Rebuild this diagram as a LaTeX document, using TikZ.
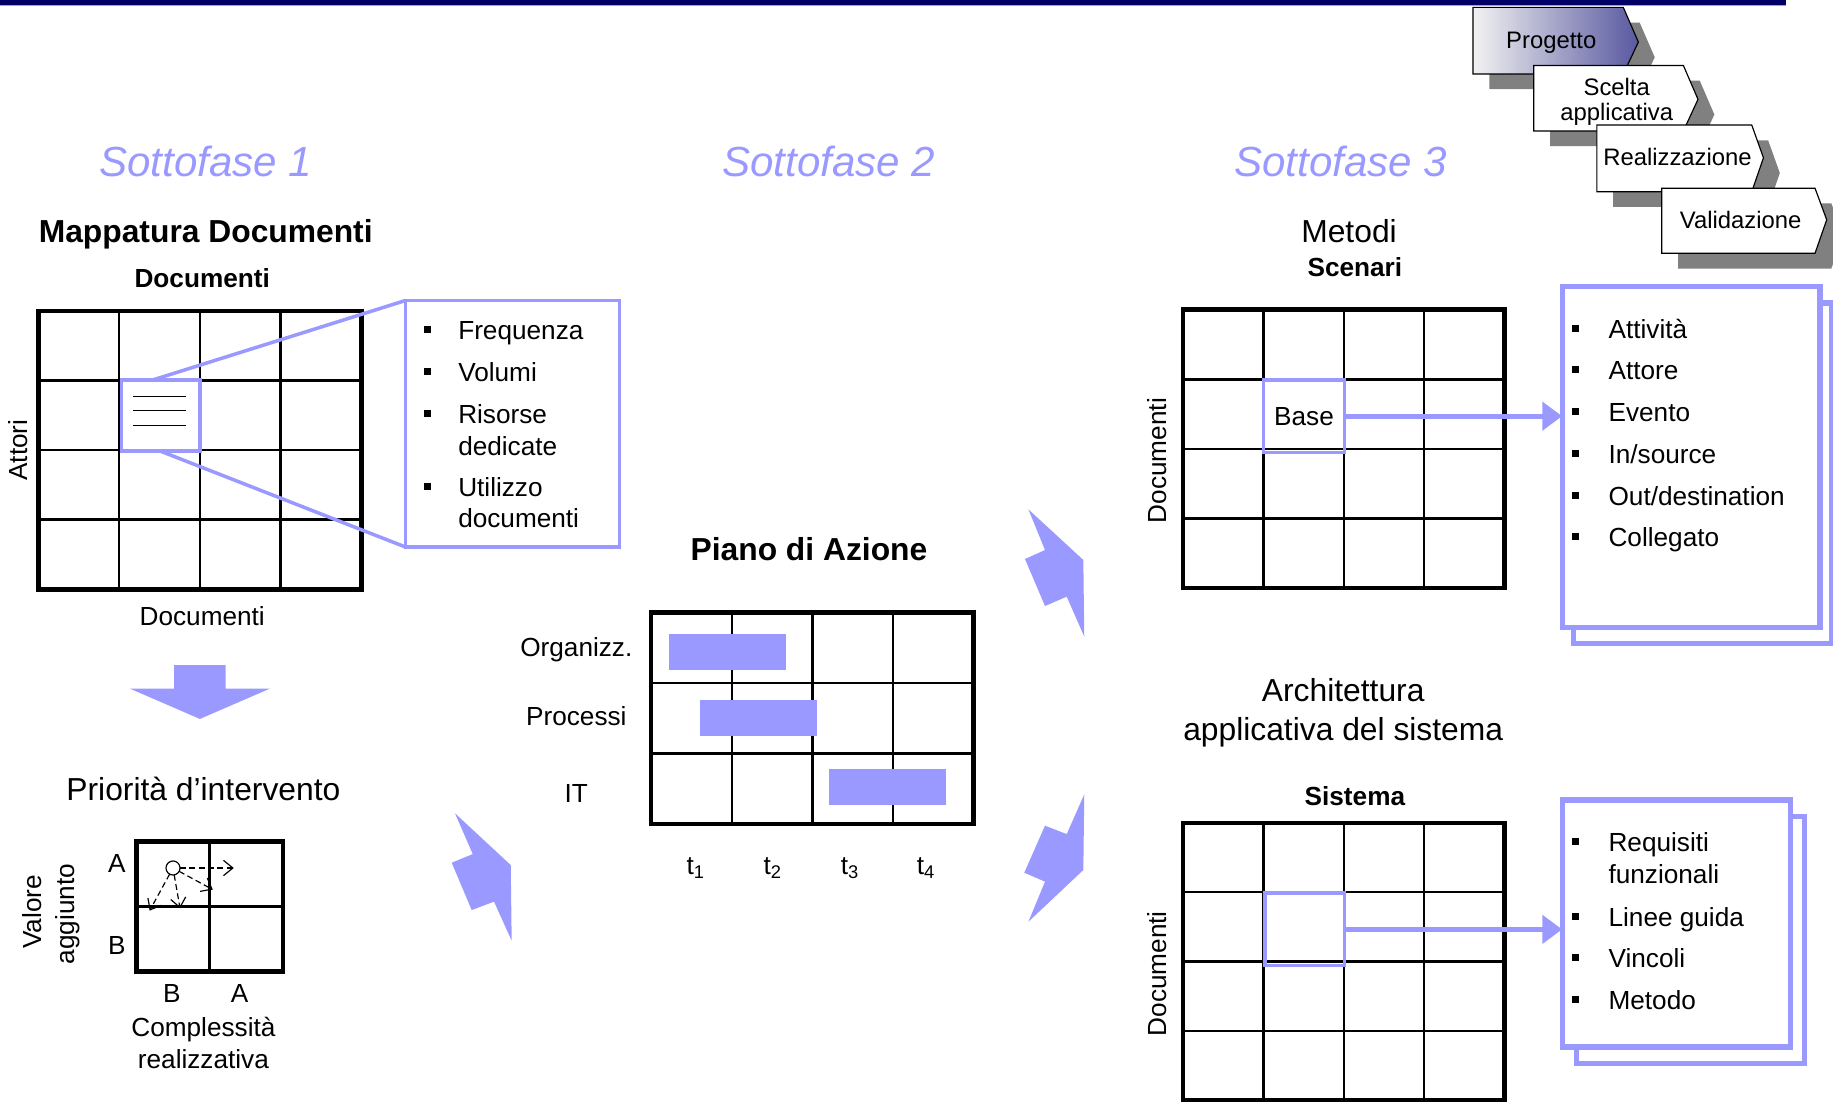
\documentclass[tikz,border=0pt]{standalone}
\usepackage{fontspec}
\setmainfont{Liberation Sans}
\usetikzlibrary{calc,arrows.meta}
\definecolor{lav}{HTML}{9999FF}
\definecolor{navyb}{HTML}{000066}
\definecolor{shad}{HTML}{808080}
\newcommand{\fBody}{\fontsize{22.4}{27}\selectfont}
\newcommand{\fHead}{\fontsize{27.2}{33}\selectfont}
\newcommand{\fSott}{\fontsize{36}{40}\selectfont}
\newcommand{\fChev}{\fontsize{20.4}{22}\selectfont}
\newcommand{\mygrid}[4]{%
  \pgfmathtruncatemacro{\nca}{#2-1}%
  \pgfmathtruncatemacro{\nra}{#3-1}%
  \foreach \i in {1,...,\nca} \draw[line width=#4] ($(#1.north west)!\i/#2!(#1.north east)$) -- ($(#1.south west)!\i/#2!(#1.south east)$);
  \foreach \j in {1,...,\nra} \draw[line width=#4] ($(#1.north west)!\j/#3!(#1.south west)$) -- ($(#1.north east)!\j/#3!(#1.south east)$);
}
\newcommand{\chevron}[7]{% name, x0, x1, tip, y0, y1, ymid
  \fill[shad, shift={(14,13)}] (#2,#5) -- (#3,#5) -- (#4,#7) -- (#3,#6) -- (#2,#6) -- cycle;
  \draw[chevbox] (#2,#5) -- (#3,#5) -- (#4,#7) -- (#3,#6) -- (#2,#6) -- cycle;
}
\tikzset{
  every node/.style={inner sep=0pt, outer sep=0pt},
  txt/.style={anchor=mid, yshift=-6pt, font=\fBody},
  rtxt/.style={anchor=mid, rotate=90, font=\fBody},
  lt/.style={anchor=mid west, yshift=-6pt, font=\fBody},
  head/.style={anchor=mid, yshift=-7pt, font=\fHead},
  chevtxt/.style={anchor=mid, yshift=-5pt, font=\fChev},
  gbox/.style={draw, line width=4},
  hl/.style={draw=lav, line width=3},
  lbox/.style={draw=lav, line width=4.5, fill=white},
  bul/.style={fill=black, minimum size=6},
  bar/.style={fill=lav, minimum width=100, minimum height=31},
  bolt/.style={fill=lav},
  sott/.style={anchor=mid, yshift=-10pt, font=\fSott\itshape, text=lav},
  chevbox/.style={draw, line width=1, fill=white},
  dar/.style={dashed, dash pattern=on 5pt off 3pt, line width=1, -{Straight Barb[length=8,width=13]}},
  lavarrow/.style={draw=lav, line width=4, -{Triangle[length=17,width=24]}},
}
\begin{document}
\begin{tikzpicture}[x=1pt,y=-1pt]
\useasboundingbox (0,0) rectangle (1568,942);
% top bar
\fill[navyb] (0,0) rectangle (1528,4);
\draw[lav, line width=0.8] (0,4.6) -- (1528,4.6);

% titles
\node[sott] (s1) at (176,138) {Sottofase 1};
\node[sott] (s2) at (709,138) {Sottofase 2};
\node[sott] (s3) at (1147,138) {Sottofase 3};

% ---------- Sottofase 1
\node[head, font=\fHead\bfseries] (mapT) at (176,198) {Mappatura Documenti};
\node[txt, font=\fBody\bfseries] (docT) at (173,237) {Documenti};
\node[gbox, minimum width=276, minimum height=238] (g1) at (171,385) {};
\mygrid{g1}{4}{4}{2}
\node[rtxt] (attori) at (21,385) {Attori};
\node[txt] (docB) at (173,526) {Documenti};
\node[hl, minimum width=67, minimum height=61] (h1) at (137.5,355.5) {};
\draw[line width=1.2] (114,339) -- (159,339);
\draw[line width=1.2] (114,351) -- (159,351);
\draw[line width=1.2] (114,364) -- (159,364);
\node[draw=lav, line width=3, fill=white, minimum width=183, minimum height=211] (cb1) at (438.5,362.5) {};
\draw[lav, line width=3] ($(h1.north west)!0.4!(h1.north east)$) -- (cb1.north west);
\draw[lav, line width=3] (h1.south) -- (cb1.south west);
\node[bul] (b11) at (366,282) {};
\node[lt] (t11) at (392,282) {Frequenza};
\node[bul] (b12) at (366,318) {};
\node[lt] (t12) at (392,318) {Volumi};
\node[bul] (b13) at (366,354) {};
\node[lt] (t13) at (392,354) {Risorse};
\node[lt] (t13b) at (392,381) {dedicate};
\node[bul] (b14) at (366,416) {};
\node[lt] (t14) at (392,416) {Utilizzo};
\node[lt] (t14b) at (392,443) {documenti};

% down arrow
\fill[lav] (149,569) -- (193,569) -- (193,589) -- (231,589) -- (171,615) -- (111,589) -- (149,589) -- cycle;

\node[head] (prio) at (174,675) {Priorità d’intervento};
\node[gbox, minimum width=125, minimum height=111] (g5) at (179.5,775.5) {};
\mygrid{g5}{2}{2}{2.5}
\node[circle, draw, line width=1, fill=white, minimum size=12] (c5) at (148,742.5) {};
\coordinate (e1) at (200,742.5);
\coordinate (e2) at (182,761);
\coordinate (e3) at (154,777);
\coordinate (e4) at (128,779);
\draw[dar] (c5) -- (e1);
\draw[dar] (c5) -- (e2);
\draw[dar] (c5) -- (e3);
\draw[dar] (c5) -- (e4);
\node[txt] (ya) at (100,738) {A};
\node[txt] (yb) at (100,808) {B};
\node[txt] (xb) at (147,849) {B};
\node[txt] (xa) at (205,849) {A};
\node[anchor=center, font=\fBody, align=center] (compl) at (174,892) {Complessità\\realizzativa};
\node[rtxt] (val) at (33,780) {Valore};
\node[rtxt] (agg) at (61,782) {aggiunto};

% bolts
\fill[bolt] (389.2,695.7) -- (436.9,740) -- (437.7,804.7) -- (422.6,771.3) -- (403.5,778.5) -- (386.4,738) -- (404.4,730.6) -- cycle;
\fill[bolt] (879.7,435.7) -- (926.7,479) -- (927.5,544.6) -- (912.5,510.4) -- (893.9,518.4) -- (876.8,478.2) -- (893.9,470.5) -- cycle;
\fill[bolt] (879.7,788.5) -- (926.7,744.2) -- (927.5,679.5) -- (912.5,713.5) -- (893.9,706.3) -- (876.2,746.5) -- (893.9,754.2) -- cycle;

% ---------- Sottofase 2
\node[head, font=\fHead\bfseries] (piano) at (692,470) {Piano di Azione};
\node[gbox, minimum width=276, minimum height=181] (g4) at (695,614.5) {};
\mygrid{g4}{4}{3}{2}
\node[bar] (bar1) at (622,557.5) {};
\node[bar] (bar2) at (649,614.5) {};
\node[bar] (bar3) at (759,673) {};
\node[txt] (org) at (493,553) {Organizz.};
\node[txt] (proc) at (493,612) {Processi};
\node[txt] (it) at (493,678) {IT};
\node[txt, yshift=3pt] (tt1) at (595,742) {t\textsubscript{1}};
\node[txt, yshift=3pt] (tt2) at (661,742) {t\textsubscript{2}};
\node[txt, yshift=3pt] (tt3) at (727,742) {t\textsubscript{3}};
\node[txt, yshift=3pt] (tt4) at (792,742) {t\textsubscript{4}};

% ---------- Sottofase 3
\node[head] (metodi) at (1154,198) {Metodi};
\node[txt, font=\fBody\bfseries] (scen) at (1159,228) {Scenari};
\node[gbox, minimum width=275, minimum height=238] (g2) at (1149.5,384) {};
\mygrid{g2}{4}{4}{2}
\node[rtxt] (doc2) at (995,394) {Documenti};
\node[hl, minimum width=69, minimum height=62, font=\fBody] (h2) at (1115.5,356) {Base};
\node[lbox, minimum width=220.6, minimum height=291.4] (lb1back) at (1456.6,405) {};
\node[lbox, minimum width=220.6, minimum height=291.4] (lb1) at (1446.6,391) {};
\draw[lavarrow] (h2.east) -- (h2.east -| lb1.west);
\node[bul] (b21) at (1348,281) {};
\node[lt] (t21) at (1376,281) {Attività};
\node[bul] (b22) at (1348,316) {};
\node[lt] (t22) at (1376,316) {Attore};
\node[bul] (b23) at (1348,352) {};
\node[lt] (t23) at (1376,352) {Evento};
\node[bul] (b24) at (1348,388) {};
\node[lt] (t24) at (1376,388) {In/source};
\node[bul] (b25) at (1348,424) {};
\node[lt] (t25) at (1376,424) {Out/destination};
\node[bul] (b26) at (1348,459) {};
\node[lt] (t26) at (1376,459) {Collegato};

\node[anchor=center, font=\fHead, align=center, yshift=-3pt] (arch) at (1149,606.5) {Architettura\\applicativa del sistema};
\node[txt, font=\fBody\bfseries] (sist) at (1159,680) {Sistema};
\node[gbox, minimum width=275, minimum height=237] (g3) at (1149.5,822.5) {};
\mygrid{g3}{4}{4}{2}
\node[rtxt] (doc3) at (995,833) {Documenti};
\node[hl, minimum width=68, minimum height=62] (h3) at (1116,795) {};
\node[lbox, minimum width=195.4, minimum height=211.4] (lb2back) at (1446,804) {};
\node[lbox, minimum width=195.4, minimum height=211.4] (lb2) at (1434,790) {};
\draw[lavarrow] (h3.east) -- (h3.east -| lb2.west);
\node[bul] (b31) at (1348,720) {};
\node[lt] (t31) at (1376,720) {Requisiti};
\node[lt] (t31b) at (1376,747) {funzionali};
\node[bul] (b32) at (1348,784) {};
\node[lt] (t32) at (1376,784) {Linee guida};
\node[bul] (b33) at (1348,819) {};
\node[lt] (t33) at (1376,819) {Vincoli};
\node[bul] (b34) at (1348,855) {};
\node[lt] (t34) at (1376,855) {Metodo};

% ---------- chevrons
\fill[shad, shift={(14,13)}] (1260,6.3) -- (1388.6,6.3) -- (1401.5,36) -- (1388.6,63.3) -- (1260,63.3) -- cycle;
\shade[left color=gray!10, right color={rgb,255:red,88;green,88;blue,160}] (1260,6.3) -- (1388.6,6.3) -- (1401.5,36) -- (1388.6,63.3) -- (1260,63.3) -- cycle;
\draw[line width=1] (1260,6.3) -- (1388.6,6.3) -- (1401.5,36) -- (1388.6,63.3) -- (1260,63.3) -- cycle;
\node[chevtxt] (prog) at (1327,34) {Progetto};
\chevron{sc}{1312}{1440}{1452.5}{56}{112}{85}
\node[anchor=center, font=\fChev, align=center, yshift=-3pt] (scelta) at (1383,84) {Scelta\\applicativa};
\chevron{re}{1366}{1498.5}{1508.5}{107}{164}{135}
\node[chevtxt] (real) at (1435,134) {Realizzazione};
\chevron{va}{1421.5}{1552.6}{1562.6}{161}{216.7}{188}
\node[chevtxt] (valid) at (1489,188) {Validazione};
\end{tikzpicture}
\end{document}
